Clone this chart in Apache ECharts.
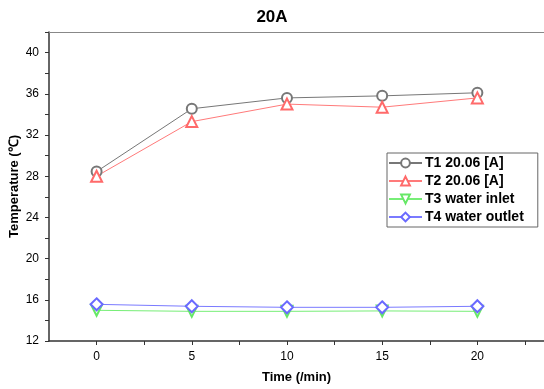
<!DOCTYPE html>
<html>
<head>
<meta charset="utf-8">
<script src="https://cdn.jsdelivr.net/npm/echarts@6/dist/echarts.min.js"></script>
<style>
  html, body { margin: 0; padding: 0; background: #fff; }
  #chart { width: 544px; height: 389px; }
</style>
</head>
<body>
<div id="chart"></div>
<script>
var times = [0, 5, 10, 15, 20];
var t1 = [28.45, 34.55, 35.6, 35.8, 36.1];
var t2 = [28.0, 33.3, 35.0, 34.7, 35.6];
var t3 = [14.98, 14.88, 14.88, 14.92, 14.88];
var t4 = [15.56, 15.37, 15.27, 15.27, 15.37];
var names = ['T1 20.06 [A]', 'T2 20.06 [A]', 'T3 water inlet', 'T4 water outlet'];
var xTickLabels = [0, 5, 10, 15, 20];
var xTicks = [0, 2.5, 5, 7.5, 10, 12.5, 15, 17.5, 20, 22.5];

function pairs(vals) {
    var out = [];
    for (var i = 0; i < times.length; i++) out.push([times[i], vals[i]]);
    return out;
}

var font = 'Liberation Sans, Arial, sans-serif';

function line(name, vals, color, lineColor, symbol, size, rotate) {
    return {
        name: name,
        type: 'line',
        data: pairs(vals),
        symbol: symbol,
        symbolSize: size,
        symbolRotate: rotate || 0,
        showAllSymbol: true,
        lineStyle: { color: lineColor, width: 1 },
        itemStyle: { color: color, borderWidth: 1 },
        emphasis: { disabled: true },
        animation: false
    };
}

var myChart = echarts.init(document.getElementById('chart'));

var option = {
    backgroundColor: '#fff',
    title: {
        text: '20A',
        left: 'center',
        top: 4,
        textStyle: { fontFamily: font, fontSize: 17, fontWeight: 'bold', color: '#000' }
    },
    legend: {
        orient: 'vertical',
        left: 387,
        top: 153,
        padding: [3, 14, 3, 1],
        itemGap: 4,
        itemWidth: 33,
        itemHeight: 11,
        borderColor: '#666',
        borderWidth: 1,
        data: names,
        textStyle: { fontFamily: font, fontSize: 14, fontWeight: 'bold', color: '#000', padding: [0, 0, 0, -2] }
    },
    grid: { left: 49, top: 32, right: 0, bottom: 48, containLabel: false, outerBoundsMode: 'none' },
    xAxis: [{
        type: 'value',
        min: -2.5,
        max: 23.5,
        name: 'Time (/min)',
        nameLocation: 'middle',
        nameGap: 30,
        nameMoveOverlap: false,
        nameTextStyle: { fontFamily: font, fontSize: 13, fontWeight: 'bold', color: '#000' },
        axisLine: { onZero: false, lineStyle: { color: '#333', width: 1.5 } },
        axisTick: { show: true, length: 4, customValues: xTicks, lineStyle: { color: '#333' } },
        axisLabel: { customValues: xTickLabels, fontFamily: font, fontSize: 12, color: '#000', margin: 10 },
        splitLine: { show: false }
    }, {
        type: 'value',
        position: 'top',
        min: -2.5,
        max: 23.5,
        axisLine: { show: true, onZero: false, lineStyle: { color: '#888', width: 1 } },
        axisTick: { show: false },
        axisLabel: { show: false },
        splitLine: { show: false }
    }],
    yAxis: {
        type: 'value',
        min: 12,
        max: 42,
        interval: 4,
        name: 'Temperature (\u2103)',
        nameLocation: 'middle',
        nameRotate: 90,
        nameGap: 28,
        nameMoveOverlap: false,
        nameTextStyle: { fontFamily: font, fontSize: 13, fontWeight: 'bold', color: '#000' },
        axisLine: { show: true, onZero: false, lineStyle: { color: '#333', width: 1.5 } },
        axisTick: { show: true, length: 4, lineStyle: { color: '#333' } },
        minorTick: { show: true, splitNumber: 2, length: 4, lineStyle: { color: '#333' } },
        axisLabel: { showMaxLabel: false, fontFamily: font, fontSize: 12, color: '#000', margin: 10 },
        splitLine: { show: false }
    },
    series: [
        line(names[0], t1, '#777', '#777', 'emptyCircle', 10),
        line(names[1], t2, '#ff6a6a', '#ff7a7a', 'emptyTriangle', 11),
        line(names[2], t3, '#66e866', '#77ee77', 'emptyTriangle', 11, 180),
        line(names[3], t4, '#6a6aff', '#7a7aff', 'emptyDiamond', 12)
    ]
};

myChart.setOption(option);
</script>
</body>
</html>
